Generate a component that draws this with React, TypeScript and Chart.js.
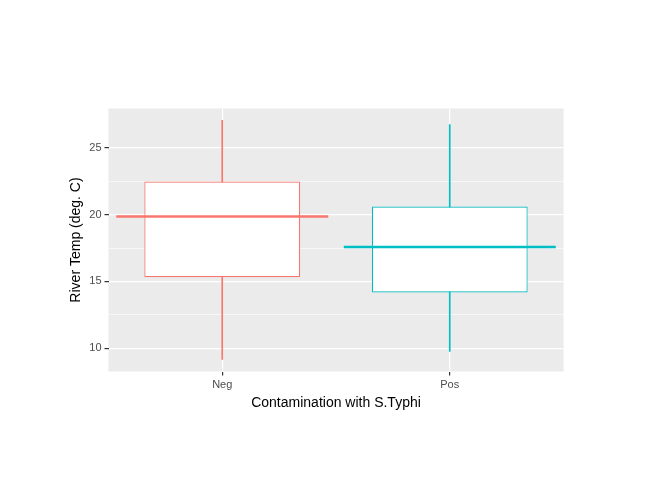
import React, { useEffect, useRef } from 'react';
import { Chart, registerables } from 'chart.js';

Chart.register(...registerables);

const groups = ['Neg', 'Pos'];
const colors = ['#F8766D', '#00BFC4'];
const whiskerLow = [9.17, 9.77];
const q1 = [15.32, 14.17];
const median = [19.86, 17.57];
const q3 = [22.48, 20.6];
const whiskerHigh = [27.06, 26.74];

const panelBg = {
  id: 'panelBg',
  beforeDraw(chart) {
    const { ctx, chartArea: a } = chart;
    ctx.save();
    ctx.fillStyle = '#EBEBEB';
    ctx.fillRect(a.left, a.top, a.right - a.left, a.bottom - a.top);
    ctx.restore();
  },
};

const App = () => {
  const ref = useRef(null);

  useEffect(() => {
    const chart = new Chart(ref.current.getContext('2d'), {
      type: 'bar',
      data: {
        labels: groups,
        datasets: [
          {
            type: 'line',
            data: median,
            showLine: false,
            pointStyle: 'line',
            pointRadius: 106,
            pointHoverRadius: 106,
            borderColor: colors,
            pointBorderWidth: 2.5,
            order: 0,
          },
          {
            data: groups.map((_, i) => [q1[i], q3[i]]),
            backgroundColor: '#FFFFFF',
            borderColor: colors,
            borderWidth: 1.2,
            borderSkipped: false,
            barPercentage: 0.685,
            categoryPercentage: 1,
            grouped: false,
            order: 1,
          },
          {
            data: groups.map((_, i) => [whiskerLow[i], whiskerHigh[i]]),
            backgroundColor: colors,
            barThickness: 1,
            grouped: false,
            order: 2,
          },
        ],
      },
      options: {
        animation: false,
        responsive: true,
        maintainAspectRatio: false,
        layout: { padding: { top: 8, right: 8, left: 0, bottom: 2 } },
        plugins: { legend: { display: false }, tooltip: { enabled: false } },
        scales: {
          x: {
            border: { display: false },
            grid: { color: '#FFFFFF', lineWidth: 1.2, offset: false, tickLength: 4, tickColor: '#333333' },
            ticks: { color: '#4D4D4D', font: { family: 'Liberation Sans', size: 11 } },
            title: { display: true, text: 'Contamination with S.Typhi', color: '#000', font: { family: 'Liberation Sans', size: 14 }, padding: { top: 0 } },
          },
          y: {
            min: 8.26,
            max: 27.94,
            border: { display: false },
            afterBuildTicks: (s) => {
              s.ticks = [10, 12.5, 15, 17.5, 20, 22.5, 25].map((v) => ({ value: v }));
            },
            grid: {
              color: '#FFFFFF',
              lineWidth: (c) => (c.tick && c.tick.value % 5 === 0 ? 1.2 : 0.6),
              tickLength: 4,
              tickColor: (c) => (c.tick && c.tick.value % 5 === 0 ? '#333333' : 'rgba(0,0,0,0)'),
            },
            ticks: {
              color: '#4D4D4D',
              font: { family: 'Liberation Sans', size: 11 },
              callback: (v) => (v % 5 === 0 ? String(v) : ''),
            },
            title: { display: true, text: 'River Temp (deg. C)', color: '#000', font: { family: 'Liberation Sans', size: 14 }, padding: { bottom: 2 } },
          },
        },
      },
      plugins: [panelBg],
    });
    return () => chart.destroy();
  }, []);

  return (
    <div style={{ position: 'absolute', left: 0, top: 0, width: 672, height: 480, background: '#fff' }}>
      <canvas ref={ref}></canvas>
    </div>
  );
};

export default App;
